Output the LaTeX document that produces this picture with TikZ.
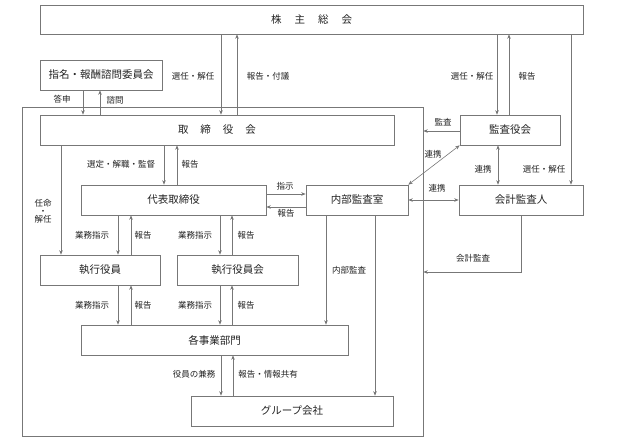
\documentclass[tikz,border=0pt]{standalone}
\usepackage{fontspec}
\setmainfont{Noto Sans CJK JP}
\usetikzlibrary{arrows.meta}
\definecolor{ln}{HTML}{777777}
\definecolor{tx}{HTML}{222222}
\tikzset{
  box/.style={draw=ln, line width=0.6pt, rectangle, inner sep=0pt, text=tx, font=\fontsize{10.5}{12}\selectfont},
  lbl/.style={inner sep=0pt, text=tx, font=\fontsize{8.5}{10}\selectfont},
  ar/.style={draw=ln, line width=0.6pt, -{Stealth[length=4.5pt,width=3.5pt]}},
  ar2/.style={draw=ln, line width=0.6pt, {Stealth[length=4.5pt,width=3.5pt]}-{Stealth[length=4.5pt,width=3.5pt]}},
  pl/.style={draw=ln, line width=0.6pt}
}
\begin{document}
\begin{tikzpicture}[x=1pt,y=-1pt]
\useasboundingbox (0,0) rectangle (640,442);
% frame
\node[draw=ln, line width=0.6pt, minimum width=401pt, minimum height=329pt, inner sep=0pt] (frame) at (222.5,271.5) {};
% boxes
\node[box, minimum width=543pt, minimum height=29pt] (kabu) at (311.5,19.5) {株\hspace{13pt}主\hspace{13pt}総\hspace{13pt}会};
\node[box, minimum width=122pt, minimum height=30pt] (shimei) at (101,75) {指名・報酬諮問委員会};
\node[box, minimum width=354pt, minimum height=30pt] (tori) at (217,130) {取\hspace{12pt}締\hspace{12pt}役\hspace{12pt}会};
\node[box, minimum width=185pt, minimum height=30pt] (daihyo) at (173.5,200) {代表取締役};
\node[box, minimum width=102pt, minimum height=30pt] (naibu) at (357,200) {内部監査室};
\node[box, minimum width=100pt, minimum height=30pt] (kansa) at (510,130) {監査役会};
\node[box, minimum width=124pt, minimum height=30pt] (kaikei) at (521,200) {会計監査人};
\node[box, minimum width=120pt, minimum height=30pt] (shikko) at (100,270) {執行役員};
\node[box, minimum width=121pt, minimum height=30pt] (shikkokai) at (237.5,270) {執行役員会};
\node[box, minimum width=267pt, minimum height=30pt] (jigyo) at (214.5,340) {各事業部門};
\node[box, minimum width=202pt, minimum height=30pt] (group) at (292,411) {グループ会社};
% connectors
\draw[ar] (221,0 |- kabu.south) -- (221,0 |- tori.north);
\draw[ar] (237,0 |- tori.north) -- (237,0 |- kabu.south);
\draw[ar] (497,0 |- kabu.south) -- (497,0 |- kansa.north);
\draw[ar] (509,0 |- kansa.north) -- (509,0 |- kabu.south);
\draw[ar] (571,0 |- kabu.south) -- (571,0 |- kaikei.north);
\draw[ar] (83,0 |- shimei.south) -- (83,0 |- tori.north);
\draw[ar] (100,0 |- tori.north) -- (100,0 |- shimei.south);
\draw[ar] (164,0 |- tori.south) -- (164,0 |- daihyo.north);
\draw[ar] (177,0 |- daihyo.north) -- (177,0 |- tori.south);
\draw[ar] (61,0 |- tori.south) -- (61,0 |- shikko.north);
\draw[ar] (daihyo.east |- 0,194) -- (naibu.west |- 0,194);
\draw[ar] (naibu.west |- 0,207) -- (daihyo.east |- 0,207);
\draw[ar] (kansa.west |- 0,131) -- (frame.east |- 0,131);
\draw[ar2] (kansa.south west) -- (naibu.north east);
\draw[ar2] (498,0 |- kansa.south) -- (498,0 |- kaikei.north);
\draw[ar2] (naibu.east) -- (kaikei.west);
\draw[ar] (521,0 |- kaikei.south) -- (521,272) -- (frame.east |- 0,272);
\draw[ar] (326,0 |- naibu.south) -- (326,0 |- jigyo.north);
\draw[ar] (375,0 |- naibu.south) -- (375,0 |- group.north);
\draw[ar] (118,0 |- daihyo.south) -- (118,0 |- shikko.north);
\draw[ar] (131,0 |- shikko.north) -- (131,0 |- daihyo.south);
\draw[ar] (220,0 |- daihyo.south) -- (220,0 |- shikkokai.north);
\draw[ar] (232,0 |- shikkokai.north) -- (232,0 |- daihyo.south);
\draw[ar] (118,0 |- shikko.south) -- (118,0 |- jigyo.north);
\draw[ar] (131,0 |- jigyo.north) -- (131,0 |- shikko.south);
\draw[ar] (220,0 |- shikkokai.south) -- (220,0 |- jigyo.north);
\draw[ar] (232,0 |- jigyo.north) -- (232,0 |- shikkokai.south);
\draw[ar] (221,0 |- jigyo.south) -- (221,0 |- group.north);
\draw[ar] (233,0 |- group.north) -- (233,0 |- jigyo.south);
% labels
\node[lbl] (l1) at (193,76) {選任・解任};
\node[lbl] (l2) at (268,76) {報告・付議};
\node[lbl] (l3) at (472,76) {選任・解任};
\node[lbl] (l4) at (527,76) {報告};
\node[lbl] (l5) at (62,99) {答申};
\node[lbl] (l6) at (115,100) {諮問};
\node[lbl] (l7) at (121,164) {選定・解職・監督};
\node[lbl] (l8) at (190,164) {報告};
\node[lbl, align=center] (l9) at (43,211) {任命\\[-2pt]・\\[-2pt]解任};
\node[lbl] (l10) at (285,186) {指示};
\node[lbl] (l11) at (286,213) {報告};
\node[lbl] (l12) at (443,122) {監査};
\node[lbl] (l13) at (433,154) {連携};
\node[lbl] (l14) at (483,169) {連携};
\node[lbl] (l15) at (544,169) {選任・解任};
\node[lbl] (l16) at (437,188) {連携};
\node[lbl] (l17) at (473,258) {会計監査};
\node[lbl] (l18) at (349,270) {内部監査};
\node[lbl] (l19) at (92,235) {業務指示};
\node[lbl] (l20) at (143,235) {報告};
\node[lbl] (l21) at (195,235) {業務指示};
\node[lbl] (l22) at (246,235) {報告};
\node[lbl] (l23) at (92,305) {業務指示};
\node[lbl] (l24) at (143,305) {報告};
\node[lbl] (l25) at (195,305) {業務指示};
\node[lbl] (l26) at (246,305) {報告};
\node[lbl] (l27) at (194,374) {役員の兼務};
\node[lbl] (l28) at (268,374) {報告・情報共有};
\end{tikzpicture}
\end{document}
